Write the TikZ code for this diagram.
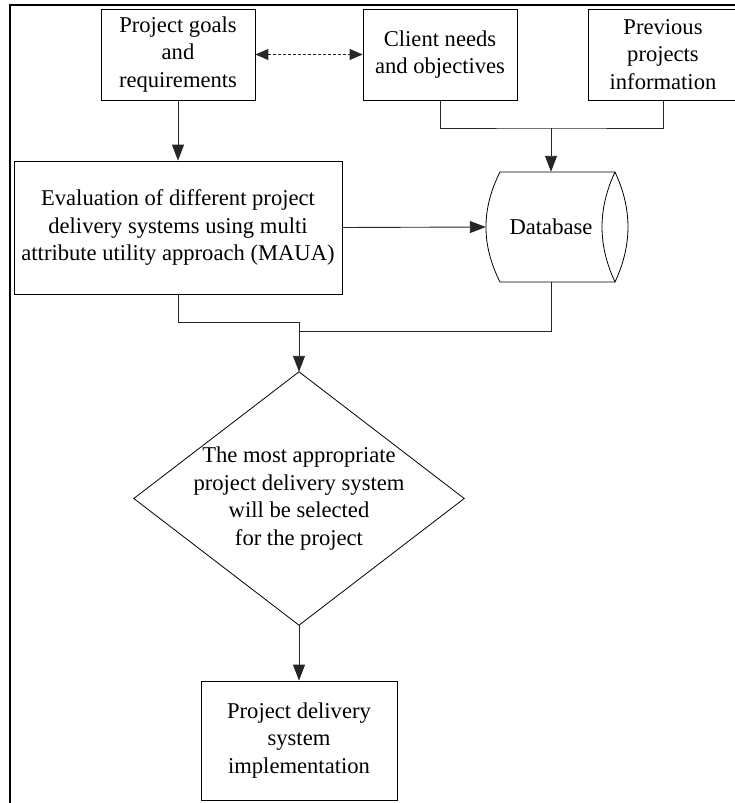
\documentclass[tikz,border=0pt]{standalone}
\usepackage{fontspec}
\setmainfont{Liberation Serif}
\usetikzlibrary{arrows.meta}
\begin{document}
\begin{tikzpicture}[x=1pt,y=-1pt,
  every node/.style={font=\fontsize{22.6}{27.4}\selectfont, align=center, inner sep=0pt},
  box/.style={draw=black, line width=0.8pt, rectangle},
  conn/.style={draw=black!85, line width=0.9pt},
  arr/.style={conn, -{Triangle[length=16pt,width=12pt]}},
  darr/.style={conn, dash pattern=on 3pt off 2pt, {Triangle[length=13pt,width=11pt]}-{Triangle[length=13pt,width=11pt]}}]
\useasboundingbox (0,0) rectangle (735,803);
\clip (0,0) rectangle (735,803);
% frame
\draw[line width=2pt] (10,803) -- (10,4.5) -- (735,4.5);
% nodes
\node[box, minimum width=154pt, minimum height=91pt] (pg) at (178,54.5) {Project goals\\and\\requirements};
\node[box, minimum width=154pt, minimum height=91pt] (cn) at (440,54.5) {Client needs\\and objectives};
\node[box, minimum width=150pt, minimum height=91pt] (pp) at (663,54.5) {Previous\\projects\\information};
\node[box, minimum width=328pt, minimum height=133pt] (ev) at (178,227.5) {Evaluation of different project\\delivery systems using multi\\attribute utility approach (MAUA)};
\node[minimum width=130pt, minimum height=110pt] (db) at (551,227) {Database};
\node[minimum width=330pt, minimum height=253pt] (dia) at (299,498.5) {The most appropriate\\project delivery system\\will be selected\\for the project};
\node[box, minimum width=196pt, minimum height=119pt] (fin) at (299,740.5) {Project delivery\\system\\implementation};
% database shape
\draw[line width=0.8pt] (500,172) .. controls (481.3,209) and (481.3,245) .. (500,282) -- (615,282)
   .. controls (632.3,245) and (632.3,209) .. (615,172) -- cycle;
\draw[line width=0.8pt] (615,172) .. controls (597.7,209) and (597.7,245) .. (615,282);
% diamond shape
\draw[line width=0.8pt] (dia.north) -- (dia.east) -- (dia.south) -- (dia.west) -- cycle;
% connectors
\coordinate (m1) at (551,128);
\coordinate (m2) at (299,322);
\coordinate (m3) at (299,331);
\draw[darr] (pg.east) -- (cn.west);
\draw[arr] (pg.south) -- (ev.north);
\draw[conn] (cn.south) |- (m1) -| (pp.south);
\draw[arr] (m1) -- (db.north);
\draw[arr] (ev.east) -- (db.west);
\draw[conn] (ev.south) |- (m2);
\draw[conn] (db.south) |- (m3);
\draw[arr] (m2) -- (dia.north);
\draw[arr] (dia.south) -- (fin.north);
\end{tikzpicture}
\end{document}
